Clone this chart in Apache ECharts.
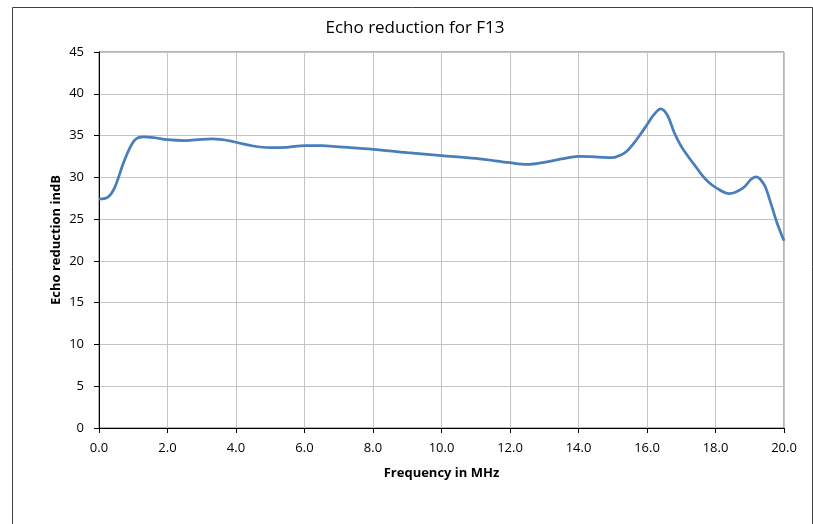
<!DOCTYPE html>
<html>
<head>
<meta charset="utf-8">
<script src="https://cdn.jsdelivr.net/npm/echarts@6/dist/echarts.min.js"></script>
<style>
html,body{margin:0;padding:0;background:#fff;}
#chart{width:813px;height:524px;}
</style>
</head>
<body>
<div id="chart"></div>
<script>
const freqMHz = [0, 0.25, 0.45, 0.74, 1.03, 1.3, 1.6, 2.0, 2.5, 3.0, 3.3, 3.6, 4.0, 4.5, 5.0, 5.5, 6.0, 6.5, 7.0, 8.0, 9.0, 10.0, 11.0, 12.0, 12.5, 13.0, 13.5, 14.0, 14.5, 15.0, 15.2, 15.4, 15.6, 15.8, 16.0, 16.2, 16.4, 16.6, 16.8, 17.0, 17.2, 17.4, 17.6, 17.8, 18.0, 18.4, 18.8, 19.05, 19.2, 19.3, 19.45, 19.6, 19.8, 20.0];
const echoDb = [27.4, 27.6, 28.7, 32.0, 34.4, 34.85, 34.75, 34.5, 34.4, 34.55, 34.6, 34.5, 34.2, 33.75, 33.55, 33.6, 33.8, 33.8, 33.65, 33.35, 32.95, 32.6, 32.27, 31.75, 31.55, 31.8, 32.2, 32.5, 32.45, 32.35, 32.6, 33.1, 34.0, 35.1, 36.3, 37.5, 38.2, 37.4, 35.3, 33.7, 32.5, 31.4, 30.3, 29.4, 28.8, 28.05, 28.7, 29.8, 30.05, 29.8, 28.9, 27.1, 24.5, 22.4];
const titleText = 'Echo reduction for F13';
const xAxisName = 'Frequency in MHz';
const yAxisName = 'Echo reduction indB';

const chart = echarts.init(document.getElementById('chart'), null, {renderer: 'canvas'});
const font = 'Open Sans, Noto Sans, sans-serif';
chart.setOption({
  animation: false,
  backgroundColor: '#ffffff',
  title: {
    text: titleText,
    left: 410, top: 15, textAlign: 'center',
    textStyle: {fontFamily: font, fontSize: 17, fontWeight: 'normal', color: '#000'}
  },
  graphic: [{
    type: 'rect', left: 10, top: 5,
    shape: {width: 800, height: 530},
    style: {fill: 'none', stroke: '#404040', lineWidth: 1},
    silent: true, z: -1
  }],
  grid: {
    left: 99, right: 29, top: 52, bottom: 96,
    show: true, borderColor: '#6b6b6b', borderWidth: 1, backgroundColor: 'transparent'
  },
  xAxis: {
    type: 'value', min: 0, max: 20, interval: 2,
    name: xAxisName, nameLocation: 'middle', nameGap: 39, nameMoveOverlap: false,
    nameTextStyle: {fontFamily: font, fontSize: 13, fontWeight: 'bold', color: '#000'},
    axisLine: {show: true, onZero: false, lineStyle: {color: '#000', width: 1}},
    axisTick: {show: true, length: 5, lineStyle: {color: '#000'}},
    axisLabel: {fontFamily: font, fontSize: 13, color: '#000', margin: 14,
      formatter: v => v.toFixed(1)},
    splitLine: {show: true, lineStyle: {color: '#c4c4c4', width: 1}}
  },
  yAxis: {
    type: 'value', min: 0, max: 45, interval: 5,
    name: yAxisName, nameLocation: 'middle', nameGap: 36, nameRotate: 90, nameMoveOverlap: false,
    nameTextStyle: {fontFamily: font, fontSize: 13, fontWeight: 'bold', color: '#000'},
    axisLine: {show: true, onZero: false, lineStyle: {color: '#000', width: 1}},
    axisTick: {show: true, length: 5, lineStyle: {color: '#000'}},
    axisLabel: {fontFamily: font, fontSize: 13, color: '#000', margin: 15},
    splitLine: {show: true, lineStyle: {color: '#c4c4c4', width: 1}}
  },
  series: [{
    type: 'line',
    data: freqMHz.map((f, i) => [f, echoDb[i]]),
    smooth: 0.35,
    showSymbol: false,
    lineStyle: {color: '#4a7ebb', width: 2.75},
    z: 5
  }]
});
</script>
</body>
</html>
